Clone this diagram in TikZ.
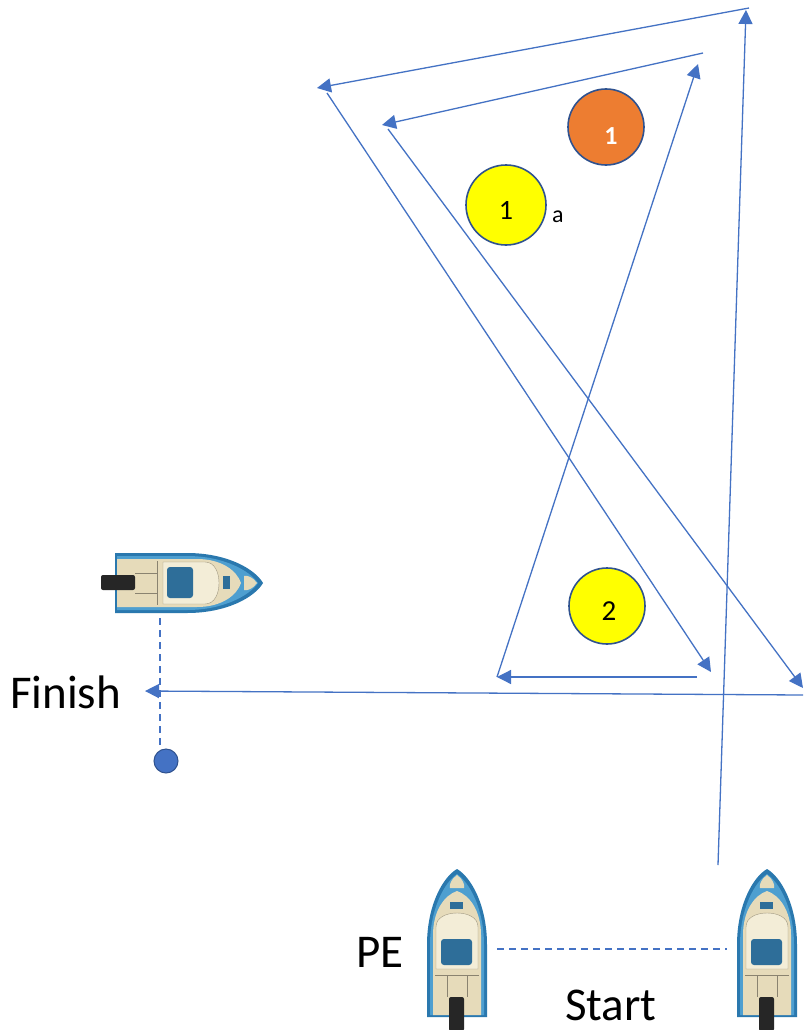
\documentclass[tikz,border=0pt]{standalone}
\usepackage{fontspec}
\setmainfont{Carlito}
\usetikzlibrary{arrows.meta}
\definecolor{lineblue}{HTML}{4472C4}
\definecolor{edgeblue}{HTML}{2F528F}
\definecolor{markorange}{HTML}{ED7D31}
\definecolor{markyellow}{HTML}{FFFF00}
\definecolor{hullblue}{HTML}{2A78AE}
\definecolor{hulllight}{HTML}{4E9FD0}
\definecolor{deck}{HTML}{E6DBBA}
\definecolor{cabin}{HTML}{F3EDD7}
\definecolor{glass}{HTML}{2E6E99}
\tikzset{
  boat/.pic={
    \fill[hullblue] (-30,72) -- (-30,0) .. controls (-30,-40) and (-14,-68) .. (0,-76) .. controls (14,-68) and (30,-40) .. (30,0) -- (30,72) -- cycle;
    \fill[hulllight] (-27,70) -- (-27,0) .. controls (-27,-37) and (-12,-63) .. (0,-71) .. controls (12,-63) and (27,-37) .. (27,0) -- (27,70) -- cycle;
    \fill[deck] (-24,70) -- (-24,-10) .. controls (-24,-35) and (-12,-50) .. (0,-54) .. controls (12,-50) and (24,-35) .. (24,-10) -- (24,70) -- cycle;
    \fill[deck] (0,-70) .. controls (-6,-66) and (-8,-60) .. (-7,-57) -- (7,-57) .. controls (8,-60) and (6,-66) .. (0,-70) -- cycle;
    \fill[glass] (-7,-43) rectangle (6,-36);
    \fill[cabin, draw=deck!70!black, line width=0.4pt] (-21,24) -- (-21,-18) .. controls (-21,-28) and (-10,-32) .. (0,-32) .. controls (10,-32) and (21,-28) .. (21,-18) -- (21,24) -- cycle;
    \fill[glass, rounded corners=3pt] (-16,-6) rectangle (15,20);
    \draw[deck!60!black, line width=0.4pt] (-22,30) -- (22,30) (-10,30) -- (-10,52) (10,30) -- (10,52);
    \fill[black!85, rounded corners=2pt] (-8,52) rectangle (7,86);
  }
}
\begin{document}
\begin{tikzpicture}[x=1pt,y=-1pt,
  course/.style={draw=lineblue, line width=1.3pt, -{Triangle[length=14pt,width=14pt]}},
  dashline/.style={draw=lineblue, line width=1.6pt, dash pattern=on 7pt off 5pt},
  buoy/.style={circle, draw=edgeblue, line width=1.6pt, minimum size=78pt, inner sep=0pt},
  lbl/.style={inner sep=0pt, anchor=base},
  bigtext/.style={inner sep=0pt, font=\fontsize{47}{47}\selectfont}
]
\fill[white] (0,0) rectangle (803,1030);
\useasboundingbox (0,0) rectangle (803,1030);

% boats
\pic (fb) [rotate=-90] at (187,583) {boat};
\pic (pe) at (457,945) {boat};
\pic (rb) at (767,945) {boat};

% buoys
\node[buoy, fill=markorange, minimum size=76pt] (m1o) at (606,127) {};
\node[lbl, text=white, font=\fontsize{26}{26}\selectfont\bfseries] (t1o) at (611,145) {1};
\node[buoy, fill=markyellow, minimum size=80pt] (m1y) at (506,205) {};
\node[lbl, font=\fontsize{28}{28}\selectfont] (t1y) at (506,219) {1};
\node[inner sep=0pt, anchor=base west, font=\fontsize{24}{24}\selectfont] (ta) at (552,222) {a};
\node[buoy, fill=markyellow, minimum size=76pt] (m2) at (607,606) {};
\node[lbl, font=\fontsize{29}{29}\selectfont] (t2) at (609,620) {2};

% finish dot
\node[circle, fill=lineblue, draw=edgeblue, line width=1pt, minimum size=24pt, inner sep=0pt] (dot) at (166,761) {};

% texts
\node[bigtext, anchor=base west] (fin) at (10,708) {Finish};
\node[bigtext, anchor=base west] (pel) at (356,967) {PE};
\node[bigtext, anchor=base west] (st) at (565,1020) {Start};

% course waypoints
\coordinate (s0) at (718,865);
\coordinate (t1) at (746,10);
\coordinate (t1b) at (749,8);
\coordinate (l1) at (317,88);
\coordinate (l1b) at (327,93);
\coordinate (b1) at (711,672);
\coordinate (h1) at (697,677);
\coordinate (h2) at (497,677);
\coordinate (u1) at (698,64);
\coordinate (u1b) at (703,53);
\coordinate (l2) at (382,125);
\coordinate (l2b) at (388,129);
\coordinate (r1) at (803,688);
\coordinate (f0) at (803,695);
\coordinate (f1) at (145,691);

\draw[course] (s0) -- (t1);
\draw[course] (t1b) -- (l1);
\draw[course] (l1b) -- (b1);
\draw[course] (h1) -- (h2);
\draw[course] (h2) -- (u1);
\draw[course] (u1b) -- (l2);
\draw[course] (l2b) -- (r1);
\draw[course] (f0) -- (f1);

% dashed lines
\coordinate (fbk) at (160,618);
\coordinate (dtop) at (160,750);
\draw[dashline] (fbk) -- (dtop);
\coordinate (per) at (497,949);
\coordinate (rbl) at (727,949);
\draw[dashline] (per) -- (rbl);
\end{tikzpicture}
\end{document}
